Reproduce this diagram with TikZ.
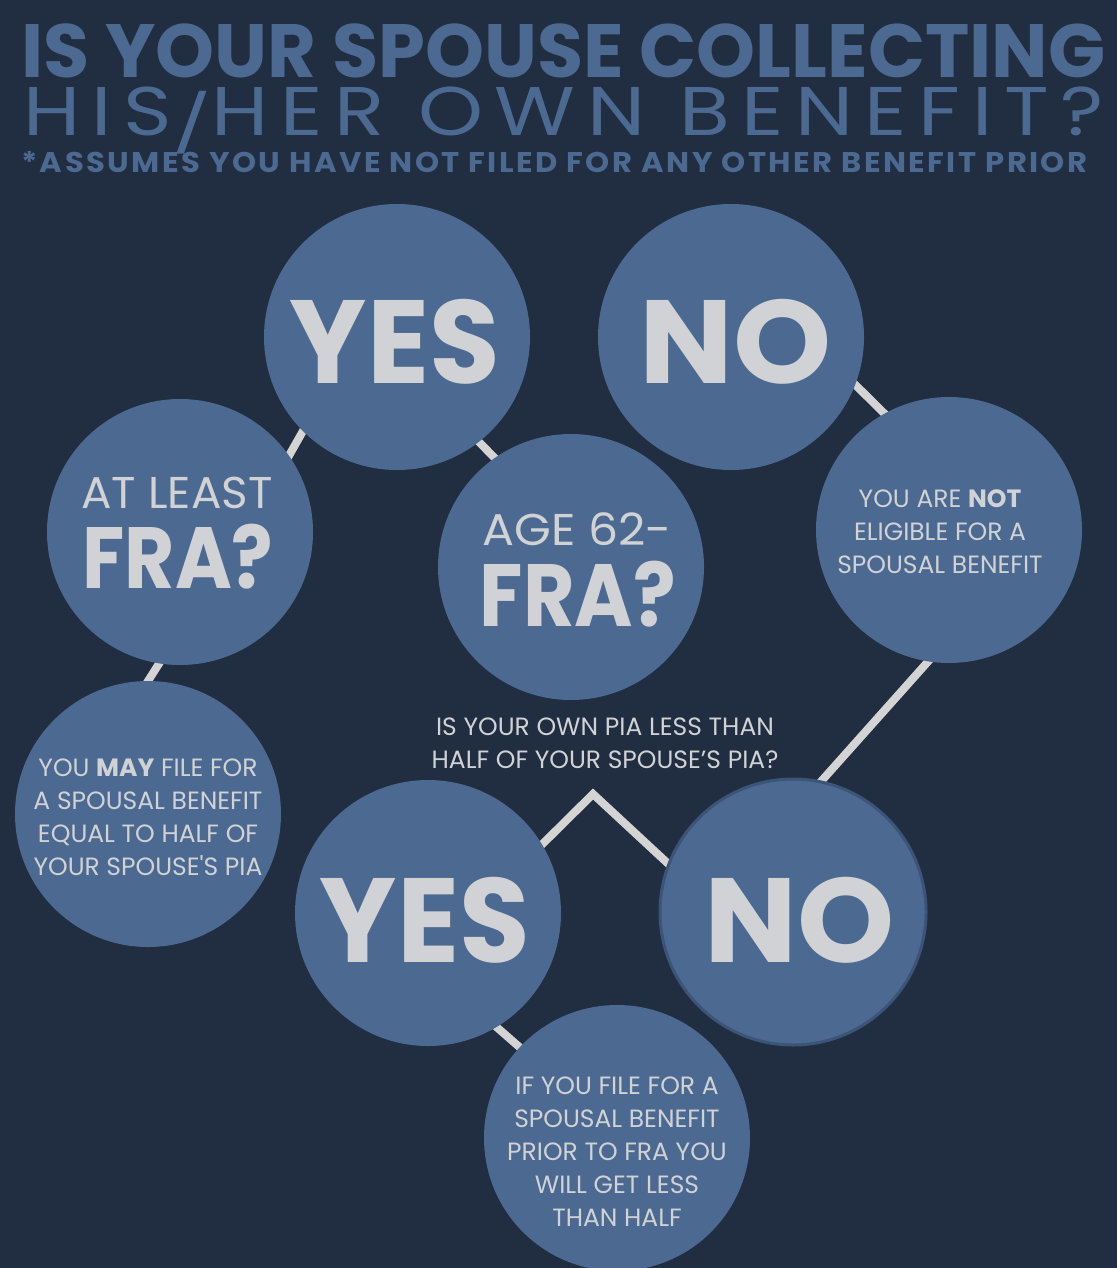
\documentclass[tikz,border=0pt]{standalone}
\usepackage{fontspec}
\setmainfont{Poppins}
\newfontfamily\thinf{Poppins}
\newfontfamily\spacedf{Poppins}[LetterSpace=14]
\newfontfamily\spacedbf{Poppins}[LetterSpace=8]
\usetikzlibrary{backgrounds}
\definecolor{bgc}{HTML}{212D40}
\definecolor{circc}{HTML}{4C6A91}
\definecolor{txtc}{HTML}{D0D2D5}
\definecolor{connc}{HTML}{D4D4D4}
\definecolor{titlec}{HTML}{4C6A91}
\definecolor{rimc}{HTML}{3B5478}
\newcommand\myfit[4]{\resizebox{#1}{#2}{#3\smash{#4}\vphantom{H}}}
\newcommand\myslash{\raisebox{-0.12em}{\scalebox{1}[0.82]{/}}}
\tikzset{
  circ/.style={circle, fill=circc, minimum size=266pt, inner sep=0pt, outer sep=0pt},
  conn/.style={draw=connc, line width=8pt, shorten <=-6pt, shorten >=-6pt},
  big/.style={text=txtc, inner sep=0pt, anchor=base},
  small/.style={text=txtc, inner sep=0pt, align=center, font=\thinf\fontsize{25}{33}\selectfont},
  ttl/.style={text=titlec, inner sep=0pt, anchor=base west},
}
\begin{document}
\begin{tikzpicture}[x=1pt,y=-1pt]
\begin{pgfonlayer}{background}
\fill[bgc] (0,0) rectangle (1117,1268);
\end{pgfonlayer}
\useasboundingbox (0,0) rectangle (1117,1268);
\clip (0,0) rectangle (1117,1268);
% title
\node[ttl] (t1) at (21,78) {\myfit{1084pt}{53pt}{\bfseries}{IS YOUR SPOUSE COLLECTING}};
\node[ttl] (t2) at (23,136) {\myfit{1080pt}{48pt}{\spacedf}{HIS\myslash HER OWN BENEFIT?}};
\node[ttl] (t3) at (21,172) {\myfit{1066pt}{20pt}{\spacedbf\bfseries}{*ASSUMES YOU HAVE NOT FILED FOR ANY OTHER BENEFIT PRIOR}};
% circles
\node[circ] (yest) at (397,337) {};
\node[circ] (not) at (731,337) {};
\node[circ] (atleast) at (180,532) {};
\node[circ] (age) at (571,567) {};
\node[circ] (notelig) at (949,530) {};
\node[circ] (youmay) at (148,814) {};
\node[circ] (yesb) at (428,913) {};
\node[circ, draw=rimc, line width=3pt] (nob) at (793,912) {};
\node[circ] (iffile) at (617,1138) {};
% texts
\node[big] (yesttxt) at (395,383) {\myfit{210pt}{83pt}{\bfseries}{YES}};
\node[big] (notxt) at (736,383) {\myfit{192pt}{83pt}{\bfseries}{NO}};
\node[big] (atleasttxt) at (177,508) {\myfit{191pt}{31pt}{\thinf}{AT LEAST}};
\node[big] (fraatxt) at (178,588) {\myfit{191pt}{61pt}{\bfseries}{FRA?}};
\node[big] (agetxt) at (577,545) {\myfit{189pt}{31pt}{\thinf}{AGE 62-}};
\node[big] (frabtxt) at (578,626) {\myfit{196pt}{62pt}{\bfseries}{FRA?}};
\node[big] (yesbtxt) at (425,962) {\myfit{210pt}{84pt}{\bfseries}{YES}};
\node[big] (nobtxt) at (800,962) {\myfit{190pt}{84pt}{\bfseries}{NO}};
\node[small] (noteligtxt) at (940,532) {YOU ARE {\bfseries NOT}\\ELIGIBLE FOR A\\SPOUSAL BENEFIT};
\node[small] (youmaytxt) at (148,817) {YOU {\bfseries MAY} FILE FOR\\A SPOUSAL BENEFIT\\EQUAL TO HALF OF\\YOUR SPOUSE'S PIA};
\node[small] (questtxt) at (605,743) {IS YOUR OWN PIA LESS THAN\\HALF OF YOUR SPOUSE’S PIA?};
\node[small] (iffiletxt) at (617,1152) {IF YOU FILE FOR A\\SPOUSAL BENEFIT\\PRIOR TO FRA YOU\\WILL GET LESS\\THAN HALF};
% connectors
\coordinate (peak) at (593,794);
\begin{pgfonlayer}{background}
\draw[conn] (yest.225) -- (atleast.35);
\draw[conn] (yest.308) -- (age.125);
\draw[conn] (not.339) -- (notelig.119);
\draw[conn] (atleast.261) -- (youmay.90);
\draw[conn] (notelig.261) -- (nob.78);
\draw[conn, line join=miter] (yesb.31) -- (peak) -- (nob.159);
\draw[conn] (yesb.301) -- (iffile.137);
\end{pgfonlayer}
\end{tikzpicture}
\end{document}
